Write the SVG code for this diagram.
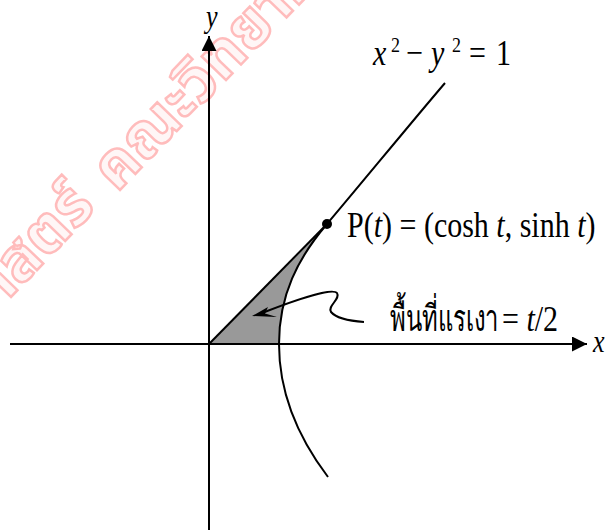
<svg xmlns="http://www.w3.org/2000/svg" width="610" height="530" viewBox="0 0 610 530">
<style>
.t{font-family:"Liberation Serif","Times New Roman",serif;font-size:30px;fill:#000}
.i{font-style:italic}
.ax{stroke:#000;stroke-width:2;fill:none}
.wm{font-family:"Liberation Serif","Noto Sans Thai",serif;font-size:62px;font-weight:bold;fill:#fff6f6;stroke:#ffbcbc;stroke-width:2.5}
</style>
<defs>
<marker id="ah" markerWidth="15" markerHeight="15" refX="15" refY="7.5" orient="auto" markerUnits="userSpaceOnUse">
<path d="M0,0 L15,7.5 L0,15 Z" fill="#000"/>
</marker>
</defs>
<rect width="610" height="530" fill="#fff"/>
<g id="watermark">
<text class="wm" transform="translate(97,208) rotate(-46)" text-anchor="end">ศาสตร์</text>
<text class="wm" transform="translate(117,193) rotate(-46)">คณะวิทยาศาสตร์</text>
</g>
<g id="region">
<path d="M209,344 L327,224 C298,258 279,295 279,344 Z" fill="#999" stroke="none"/>
</g>
<g id="connectors">
<line class="ax" x1="10" y1="344" x2="587" y2="344" marker-end="url(#ah)"/>
<line class="ax" x1="209" y1="530" x2="209" y2="36" marker-end="url(#ah)"/>
<line class="ax" x1="209" y1="344" x2="327" y2="224"/>
<path class="ax" d="M328,477 C300,440 279,395 279,344 C279,295 298,258 327,224 C360,185 410,124 445,83"/>
<path class="ax" d="M364,322 C350,321 336,318 331,312 C327,306 341,299 337,293 C333,288 300,298 262,313"/>
<path d="M252,316 L268,307 L265,313.5 L277,317 Z" fill="#000"/>
</g>
<g id="P">
<circle cx="327" cy="224" r="5" fill="#000"/>
<text class="t" transform="translate(347,237) scale(1,1.22)">P(<tspan class="i">t</tspan>) = (cosh <tspan class="i">t</tspan>, sinh <tspan class="i">t</tspan>)</text>
</g>
<g id="eq">
<text class="t" transform="translate(0,65) scale(1,1.22)"><tspan class="i" x="373">x</tspan><tspan x="391" y="-11" font-size="18">2</tspan><tspan x="406" y="0">−</tspan><tspan class="i" x="431">y</tspan><tspan x="452" y="-11" font-size="18">2</tspan><tspan x="469" y="0">=</tspan><tspan x="496">1</tspan></text>
</g>
<g id="area">
<text class="t" transform="translate(390,331) scale(1,1.22)" textLength="109" lengthAdjust="spacingAndGlyphs">พื้นที่แรเงา</text>
<text class="t" transform="translate(502,331) scale(1,1.22)">= <tspan class="i">t</tspan>/2</text>
</g>
<g id="labels">
<text class="t i" style="font-size:26px" transform="translate(206,27) scale(1,1.22)">y</text>
<text class="t i" style="font-size:26px" transform="translate(593,352) scale(1,1.22)">x</text>
</g>
</svg>
